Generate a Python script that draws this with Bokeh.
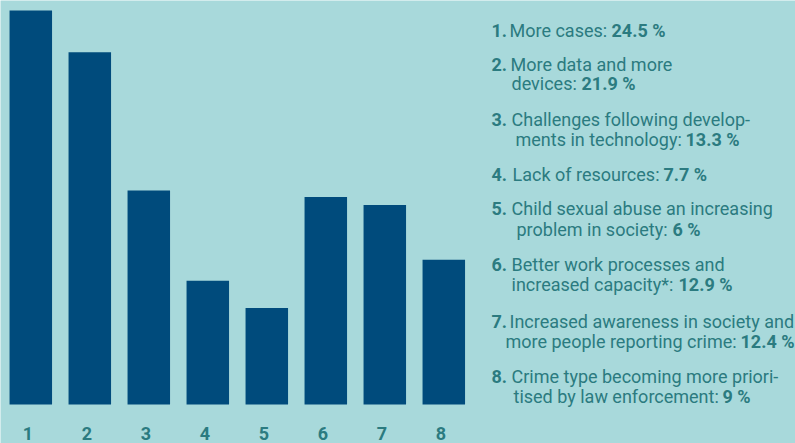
from bokeh.plotting import figure
from bokeh.models import Label, Range1d, ColumnDataSource
from bokeh.core.properties import value
from bokeh.embed import file_html
from bokeh.resources import INLINE

# ---------------- data ----------------
categories = [1, 2, 3, 4, 5, 6, 7, 8]
values = [24.5, 21.9, 13.3, 7.7, 6.0, 12.9, 12.4, 9.0]
descriptions = [
    ["More cases:"],
    ["More data and more", "devices:"],
    ["Challenges following develop-", "ments in technology:"],
    ["Lack of resources:"],
    ["Child sexual abuse an increasing", "problem in society:"],
    ["Better work processes and", "increased capacity*:"],
    ["Increased awareness in society and", "more people reporting crime:"],
    ["Crime type becoming more priori-", "tised by law enforcement:"],
]
value_labels = [f"{v:g} %" for v in values]
tick_labels = [str(c) for c in categories]

# ---------------- layout / style ----------------
BG = "#a8d9db"
BAR = "#004b7c"
TXT = "#2b7b80"
FONT = "Roboto"

W, H = 795, 443
BAR_BOTTOM_PX = 404          # from top of canvas
BAR1_TOP_PX = 10
PITCH = 59.0                 # px between bar centres
FIRST_CENTER_PX = 30.3
BAR_W_PX = 42.5
TICK_LABEL_MID_PX = 433

ppu = (BAR_BOTTOM_PX - BAR1_TOP_PX) / max(values)
y_start = -(H - BAR_BOTTOM_PX) / ppu
y_end = BAR_BOTTOM_PX / ppu
x_start = categories[0] - FIRST_CENTER_PX / PITCH
x_end = x_start + W / PITCH

# legend layout in canvas px (x positions; vertical middles of each text line)
LX_NUM = 491
legend_line_x = [[509], [510, 511], [511, 515], [512], [511, 516], [511, 511], [509, 505], [511, 513]]
legend_mid = [[29.5], [63.5, 82.5], [118.5, 138.5], [173.5], [207.5, 228.5],
              [263.5, 283.5], [320.5, 340.5], [375.5, 395.5]]
value_x = [611, 581, 685, 663, 672, 678, 740, 722]

p = figure(width=W, height=H, output_backend="svg", toolbar_location=None,
           x_range=Range1d(x_start, x_end), y_range=Range1d(y_start, y_end),
           x_axis_location=None, y_axis_location=None,
           min_border=0, min_border_left=0, min_border_right=0,
           min_border_top=0, min_border_bottom=0,
           background_fill_color=BG, border_fill_color=BG,
           outline_line_color=None)
p.grid.visible = False

src = ColumnDataSource(dict(x=categories, top=values, label=tick_labels,
                            ly=[-(TICK_LABEL_MID_PX - BAR_BOTTOM_PX) / ppu] * len(categories)))
p.vbar(x="x", top="top", bottom=0, width=BAR_W_PX / PITCH, source=src,
       fill_color=BAR, line_color=None)
p.text(x="x", y="ly", text="label", source=src, x_offset=-3,
       text_align="center", text_baseline="middle",
       text_font=value(FONT), text_font_style="bold", text_font_size="18px",
       text_color=TXT)

def lab(x, mid_from_top, text, bold):
    p.add_layout(Label(x=x, y=H - mid_from_top, x_units="screen", y_units="screen",
                       text=text, text_font=FONT, text_font_size="18px",
                       text_font_style="bold" if bold else "normal",
                       text_color=TXT, text_baseline="middle", text_align="left"))

for i, lines in enumerate(descriptions):
    mids = legend_mid[i]
    lab(LX_NUM, mids[0], f"{categories[i]}.", True)
    for j, line in enumerate(lines):
        lab(legend_line_x[i][j], mids[j], line, False)
    lab(value_x[i], mids[-1], value_labels[i], True)

open("out.html", "w").write(file_html(p, INLINE))
